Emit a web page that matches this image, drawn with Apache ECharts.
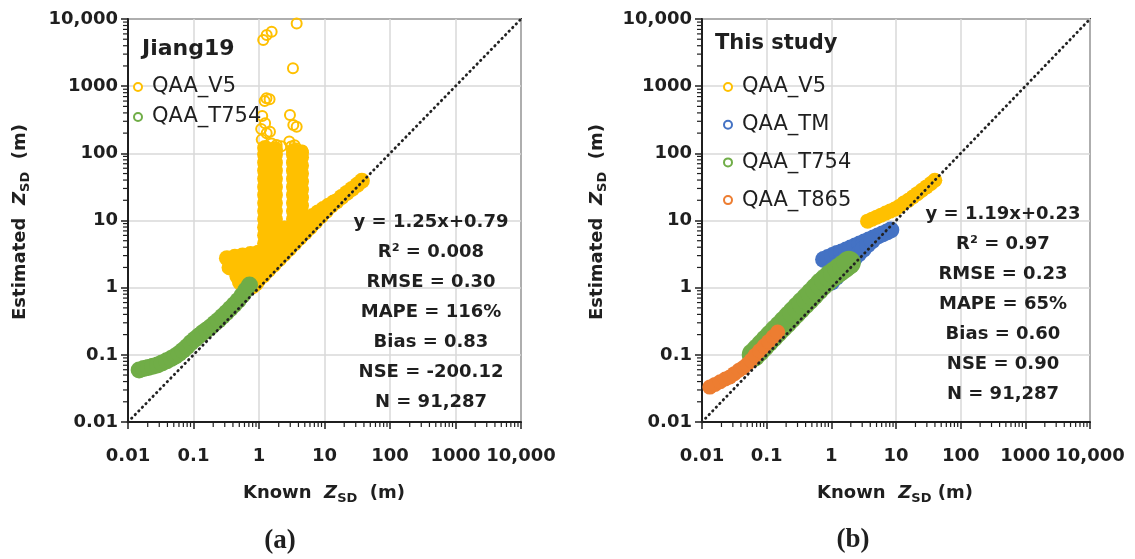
<!DOCTYPE html>
<html><head><meta charset="utf-8">
<script src="https://cdn.jsdelivr.net/npm/echarts@6/dist/echarts.min.js"></script>
<style>html,body{margin:0;padding:0;background:#fff}#c{width:1135px;height:559px}</style>
</head><body><div id="c"></div>
<script>
// ---------- data ----------
const tickLabels = ['0.01','0.1','1','10','100','1000','10,000'];
const minorTicks = [0.02,0.03,0.04,0.05,0.06,0.07,0.08,0.09,
  0.2,0.3,0.4,0.5,0.6,0.7,0.8,0.9,
  2,3,4,5,6,7,8,9,
  20,30,40,50,60,70,80,90,
  200,300,400,500,600,700,800,900,
  2000,3000,4000,5000,6000,7000,8000,9000];
const oneToOne = [[0.01,0.01],[10000,10000]];

// (a) Jiang19
const jiangT754 = [[0.0148,0.0596],[0.0174,0.0624],[0.0204,0.0646],[0.0240,0.0676],[0.0282,0.0708],[0.0331,0.0759],[0.0389,0.0813],[0.0457,0.0881],[0.0525,0.0955],[0.0603,0.105],[0.0692,0.117],[0.0794,0.132],[0.0912,0.151],[0.105,0.170],[0.120,0.191],[0.138,0.214],[0.158,0.234],[0.182,0.260],[0.209,0.292],[0.240,0.327],[0.275,0.372],[0.316,0.422],[0.363,0.484],[0.417,0.556],[0.479,0.646],[0.550,0.767],[0.631,0.923],[0.716,1.10]];
const jiangV5Dense = [
  [0.794,1.05],[0.955,1.26],[1.15,1.51],[1.38,1.82],[1.66,2.19],[2.00,2.63],[2.40,3.16],[2.88,3.80],[3.47,4.57],[4.17,5.50],[5.01,6.61],[6.03,7.94],[7.24,9.55],[8.71,11.5],[10.5,13.8],[12.6,16.6],[15.1,19.1],[18.2,22.4],[21.9,25.7],[26.3,29.5],[31.6,34.0],[37.2,39.0],
  [6.61,11.7],[7.94,13.2],[9.55,14.8],[11.5,16.6],[13.8,18.6],
  [1.24,2.00],[1.24,2.63],[1.24,3.47],[1.24,4.57],[1.24,6.03],[1.24,7.94],[1.24,10.5],[1.24,13.8],[1.24,18.2],[1.24,24.0],[1.24,31.6],[1.24,41.7],[1.24,55.0],[1.24,72.4],[1.24,95.5],[1.24,120],
  [1.75,2.63],[1.75,3.47],[1.75,4.57],[1.75,6.03],[1.75,7.94],[1.75,10.5],[1.75,13.8],[1.75,18.2],[1.75,24.0],[1.75,31.6],[1.75,41.7],[1.75,55.0],[1.75,72.4],[1.75,95.5],[1.75,115],
  [3.42,6.03],[3.42,7.94],[3.42,10.5],[3.42,13.8],[3.42,18.2],[3.42,24.0],[3.42,31.6],[3.42,41.7],[3.42,55.0],[3.42,72.4],[3.42,95.5],[3.42,108],
  [4.38,7.24],[4.38,9.55],[4.38,12.6],[4.38,16.6],[4.38,21.9],[4.38,28.8],[4.38,38.0],[4.38,50.1],[4.38,66.1],[4.38,87.1],[4.38,102],
  [2.45,4.79],[2.45,6.31],[2.45,7.59],
  [0.324,2.75],[0.427,2.88],[0.562,3.02],[0.741,3.16],[0.977,3.31],[0.355,2.00],[0.468,2.04],[0.617,2.09],[0.813,2.14],[0.468,1.48],[0.617,1.51],[0.813,1.55],[0.513,1.20],[0.646,1.12],[0.891,1.15]
];
const jiangV5Sparse = [[1.16,4860],[1.31,5780],[1.56,6470],[3.76,8600],[3.3,1850],[1.30,660],[1.45,640],[1.22,600],[1.12,360],[2.97,372],[3.34,264],[3.76,249],[1.24,280],[1.31,199],[1.47,210],[1.08,230],[1.86,133],[1.56,140],[3.5,132],[3.1,126],[3.76,118],[2.2,128],[1.1,160],[4.6,110],[2.9,150]];

// (b) This study
const studyV5 = [[3.631,9.772],[4.266,10.47],[5.012,11.22],[5.888,12.02],[6.918,12.88],[8.128,13.80],[9.550,14.79],[11.22,16.22],[13.18,18.20],[15.49,19.95],[18.20,22.39],[21.38,25.12],[25.12,28.18],[29.51,31.62],[34.67,35.48],[39.81,39.81]];
const studyTM = [
  [0.759,2.63],[0.891,2.82],[1.047,3.02],[1.230,3.24],[1.445,3.39],[1.698,3.63],[1.995,3.89],[2.344,4.17],[2.754,4.47],[3.236,4.79],[3.802,5.13],[4.467,5.50],[5.248,5.89],[6.166,6.31],[7.244,6.76],[8.318,7.24],
  [1.0,1.905],[1.175,2.138],[1.380,2.399],[1.622,2.692],
  [1.0,1.202],[1.175,1.413],[1.380,1.660],[1.622,1.950],[1.905,2.291],[2.239,2.692],[2.630,3.162],[3.090,3.715],[3.631,4.365],[4.266,5.012]
];
const studyT754 = [[0.0631,0.100],[0.0741,0.117],[0.0871,0.138],[0.102,0.162],[0.120,0.191],[0.141,0.224],[0.166,0.263],[0.195,0.309],[0.229,0.363],[0.269,0.427],[0.316,0.501],[0.372,0.589],[0.437,0.692],[0.513,0.813],[0.603,0.955],[0.708,1.122],[0.832,1.288],[0.977,1.479],[1.148,1.660],[1.349,1.862],[1.585,2.089],[1.862,2.344]];
const studyT865 = [[0.0132,0.0331],[0.0159,0.0363],[0.0191,0.0398],[0.0229,0.0437],[0.0269,0.0468],[0.0316,0.0525],[0.0372,0.0589],[0.0437,0.0646],[0.0501,0.0724],[0.0575,0.0832],[0.0661,0.0977],[0.0776,0.115],[0.0912,0.135],[0.107,0.158],[0.126,0.186],[0.148,0.219]];

const statsA = ['y = 1.25x+0.79','R\u00B2 = 0.008','RMSE = 0.30','MAPE = 116%','Bias = 0.83','NSE = -200.12','N = 91,287'];
const statsB = ['y = 1.19x+0.23','R\u00B2 = 0.97','RMSE = 0.23','MAPE = 65%','Bias = 0.60','NSE = 0.90','N = 91,287'];

// ---------- chart ----------
const FONT = 'DejaVu Sans';
const INK = '#1f1f1f';
const COL = {v5:'#FFC000', tm:'#4472C4', t754:'#70AD47', t865:'#ED7D31'};
const grids = [{left:128, top:19, width:393, height:403}, {left:702, top:19, width:388, height:403}];

function logAxis(gi, isX){
  return {
    type:'log', logBase:10, min:0.01, max:10000, gridIndex:gi, splitNumber:6,
    axisLine:{show:true, onZero:false, lineStyle:{color:INK, width:2}},
    axisTick:{show:true, inside:false, length:7, lineStyle:{color:INK, width:1.5}},
    minorTick:{show:false},
    splitLine:{show:true, lineStyle:{color:'#d9d9d9', width:1.5}},
    axisLabel:{show:true, margin:isX?25:10, color:INK, fontFamily:FONT, fontWeight:'bold', fontSize:18,
      formatter: v => tickLabels[Math.round(Math.log10(v)) + 2]}
  };
}
function minorTickSeries(gi, isX){
  return {type:'custom', xAxisIndex:gi, yAxisIndex:gi, silent:true, clip:false, z:6,
    data: minorTicks.map(v => isX ? [v, 0.01] : [0.01, v]),
    renderItem: (params, api) => {
      const p = api.coord([api.value(0), api.value(1)]);
      return {type:'line', shape: isX ? {x1:p[0], y1:p[1], x2:p[0], y2:p[1]+5} : {x1:p[0]-5, y1:p[1], x2:p[0], y2:p[1]},
        style:{stroke:INK, lineWidth:1.2}};
    }};
}
function dense(name, data, color, size, gi){
  return {type:'scatter', name, data, xAxisIndex:gi, yAxisIndex:gi, symbol:'circle', symbolSize:size,
    itemStyle:{color, borderWidth:0, borderColor:color, opacity:1, shadowBlur:0}, silent:true, emphasis:{disabled:true}, z:3};
}
function rings(name, data, color, gi){
  return {type:'scatter', name, data, xAxisIndex:gi, yAxisIndex:gi, symbol:'circle', symbolSize:10,
    itemStyle:{color:'rgba(255,255,255,0)', borderColor:color, borderWidth:2, opacity:1}, silent:true, emphasis:{disabled:true}, z:3};
}
function diagSeries(gi){
  return {type:'line', data:oneToOne, xAxisIndex:gi, yAxisIndex:gi, symbol:'none', silent:true, z:4,
    lineStyle:{color:'#222', width:2.8, type:[0.5,4.6], cap:'round'}};
}
function legendItem(name, color){
  return {name, icon:'circle', itemStyle:{color:'#fff', borderColor:color, borderWidth:2}};
}
const legendText = {fontFamily:FONT, fontSize:21, color:INK, lineHeight:24};
const richTitle = {
  n:{fontFamily:FONT, fontWeight:'bold', fontSize:18, lineHeight:26, fill:INK},
  i:{fontFamily:FONT, fontWeight:'bold', fontStyle:'italic', fontSize:18, lineHeight:26, fill:INK},
  s:{fontFamily:FONT, fontWeight:'bold', fontSize:13, lineHeight:14, padding:[12,0,0,0], fill:INK}
};
function textEl(x, y, text, font, lineHeight){
  return {type:'text', x, y, silent:true, z:20,
    style:{text, font, lineHeight, fill:INK, align:'center', verticalAlign:'middle', textAlign:'center', textVerticalAlign:'middle'}};
}
function titleEl(x, y, text, rotation){
  return {type:'text', x, y, rotation:rotation||0, silent:true, z:20,
    style:{text, rich:richTitle, fill:INK, align:'center', verticalAlign:'middle', textAlign:'center', textVerticalAlign:'middle'}};
}

const option = {
  animation:false,
  backgroundColor:'#fff',
  textStyle:{fontFamily:FONT},
  grid: grids.map(g => Object.assign({show:true, borderColor:'#333', borderWidth:2, backgroundColor:'#fff', containLabel:false}, g)),
  xAxis:[logAxis(0,true), logAxis(1,true)],
  yAxis:[logAxis(0,false), logAxis(1,false)],
  legend:[
    {left:133, top:75, orient:'vertical', padding:0, itemGap:6, itemWidth:18, itemHeight:8, selectedMode:false,
      textStyle:legendText, data:[legendItem('QAA_V5',COL.v5), legendItem('QAA_T754',COL.t754)]},
    {left:723, top:75, orient:'vertical', padding:0, itemGap:13.7, itemWidth:18, itemHeight:8, selectedMode:false,
      textStyle:legendText, data:[legendItem('QAA_V5',COL.v5), legendItem('QAA_TM',COL.tm), legendItem('QAA_T754',COL.t754), legendItem('QAA_T865',COL.t865)]}
  ],
  series:[
    dense('QAA_V5', jiangV5Dense, COL.v5, 16, 0),
    rings('QAA_V5', jiangV5Sparse, COL.v5, 0),
    dense('QAA_T754', jiangT754, COL.t754, 17, 0),
    diagSeries(0),
    minorTickSeries(0,true), minorTickSeries(0,false),
    dense('QAA_V5', studyV5, COL.v5, 15, 1),
    dense('QAA_TM', studyTM, COL.tm, 17, 1),
    dense('QAA_T754', studyT754, COL.t754, 24, 1),
    dense('QAA_T865', studyT865, COL.t865, 15, 1),
    diagSeries(1),
    minorTickSeries(1,true), minorTickSeries(1,false)
  ],
  graphic:[
    {type:'text', x:142, y:49, silent:true, z:20, style:{text:'Jiang19', font:'bold 22px "DejaVu Sans"', fill:INK, align:'left', verticalAlign:'middle', textAlign:'left', textVerticalAlign:'middle'}},
    {type:'text', x:715, y:44, silent:true, z:20, style:{text:'This study', font:'bold 21px "DejaVu Sans"', fill:INK, align:'left', verticalAlign:'middle', textAlign:'left', textVerticalAlign:'middle'}},
    textEl(431, 312, statsA.join('\n'), 'bold 18px "DejaVu Sans"', 30),
    textEl(1003, 304, statsB.join('\n'), 'bold 18px "DejaVu Sans"', 30),
    titleEl(324, 493, '{n|Known  }{i|Z}{s|SD}{n|  (m)}'),
    titleEl(895, 493, '{n|Known  }{i|Z}{s|SD}{n| (m)}'),
    titleEl(20, 222, '{n|Estimated  }{i|Z}{s|SD}{n|  (m)}', Math.PI/2),
    titleEl(597, 222, '{n|Estimated  }{i|Z}{s|SD}{n|  (m)}', Math.PI/2),
    textEl(280, 541, '(a)', 'bold 27px "Liberation Serif"'),
    textEl(853, 540, '(b)', 'bold 27px "Liberation Serif"')
  ]
};
const chart = echarts.init(document.getElementById('c'), null, {renderer:'canvas'});
chart.setOption(option);
</script>
</body></html>
